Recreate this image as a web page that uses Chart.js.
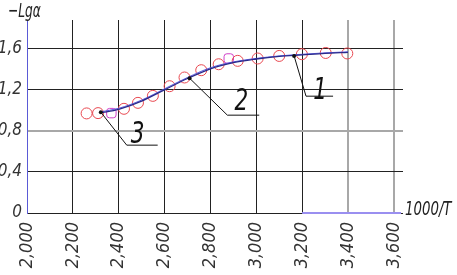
<!DOCTYPE html>
<html>
<head>
<meta charset="utf-8">
<script src="https://cdn.jsdelivr.net/npm/chart.js@4.4.1/dist/chart.umd.min.js"></script>
<style>
  html, body { margin: 0; padding: 0; background: #fff; }
  #wrap { width: 457px; height: 275px; }
</style>
</head>
<body>
<div id="wrap"><canvas id="c" width="457" height="275"></canvas></div>
<script>
// measured points (1000/T, -lg a)
const measX = [2.260, 2.310, 2.368, 2.423, 2.484, 2.549, 2.622, 2.687, 2.760, 2.836, 2.880, 2.919, 3.006, 3.100, 3.199, 3.303, 3.397];
const measY = [0.970, 0.973, 0.973, 1.015, 1.073, 1.141, 1.235, 1.320, 1.391, 1.449, 1.505, 1.482, 1.505, 1.530, 1.547, 1.559, 1.554];
const squareIdx = [2, 10];

// fitted curves
const fitX = [2.32, 2.40, 2.50, 2.60, 2.70, 2.80, 2.90, 3.00, 3.10, 3.20, 3.30, 3.40];
const fitA = [0.975, 1.010, 1.090, 1.200, 1.310, 1.405, 1.465, 1.500, 1.525, 1.540, 1.555, 1.565];
const fitB = [0.985, 1.020, 1.100, 1.210, 1.320, 1.415, 1.472, 1.506, 1.530, 1.546, 1.560, 1.570];

const xTicks = [2.0, 2.2, 2.4, 2.6, 2.8, 3.0, 3.2, 3.4, 3.6];
const yTicks = [0, 0.2, 0.4, 0.6, 0.8, 1.0, 1.2, 1.4, 1.6, 1.8];
const yLabelled = [0, 0.4, 0.8, 1.2, 1.6];

// callouts: label, anchor on curve, elbow, end of shelf, text position
const calloutLabels = ['3', '2', '1'];
const calloutAnchor = [[2.322, 0.982], [2.709, 1.313], [3.165, 1.530]];
const calloutElbow = [[2.435, 0.661], [2.874, 0.953], [3.217, 1.138]];
const calloutEnd = [[2.570, 0.661], [3.013, 0.953], [3.335, 1.138]];
const calloutText = [[2.483, 0.760], [2.935, 1.080], [3.278, 1.190]];

const FONT = "'Liberation Sans Narrow', 'DejaVu Sans Condensed', sans-serif";
const grayX = [3.4, 3.6];
const grayY = [0.8, 1.4];
const near = (a, b) => Math.abs(a - b) < 1e-6;
const comma = s => s.replace('.', ',');

// draw narrow (horizontally squeezed) text, like the CAD font of the original
function narrowText(ctx, txt, px, py, size, sx) {
  ctx.save();
  ctx.translate(px, py);
  ctx.scale(sx, 1);
  ctx.font = "italic " + size + "px " + FONT;
  ctx.fillText(txt, 0, 0);
  ctx.restore();
}

const extras = {
  id: 'extras',
  afterDatasetsDraw(chart) {
    const { ctx, scales: { x, y }, chartArea: a } = chart;
    ctx.save();
    // purple segment of bottom axis
    ctx.strokeStyle = '#9a8ff0';
    ctx.lineWidth = 2;
    ctx.beginPath();
    ctx.moveTo(x.getPixelForValue(3.2), y.getPixelForValue(0));
    ctx.lineTo(a.right - 2, y.getPixelForValue(0));
    ctx.stroke();

    // callout leaders
    ctx.strokeStyle = '#111';
    ctx.lineWidth = 1;
    ctx.fillStyle = '#111';
    calloutLabels.forEach((lab, i) => {
      const p0 = calloutAnchor[i], p1 = calloutElbow[i], p2 = calloutEnd[i];
      ctx.beginPath();
      ctx.moveTo(x.getPixelForValue(p0[0]), y.getPixelForValue(p0[1]));
      ctx.lineTo(x.getPixelForValue(p1[0]), y.getPixelForValue(p1[1]));
      ctx.lineTo(x.getPixelForValue(p2[0]), y.getPixelForValue(p2[1]));
      ctx.stroke();
      ctx.beginPath();
      ctx.arc(x.getPixelForValue(p0[0]), y.getPixelForValue(p0[1]), 2, 0, Math.PI * 2);
      ctx.fill();
      ctx.textAlign = 'center';
      ctx.textBaseline = 'middle';
      narrowText(ctx, lab, x.getPixelForValue(calloutText[i][0]), y.getPixelForValue(calloutText[i][1]), 30, 0.8);
    });

    // axis titles
    ctx.fillStyle = '#222';
    ctx.textAlign = 'left';
    ctx.textBaseline = 'middle';
    narrowText(ctx, '\u2212Lg\u03b1', a.left - 19, 12, 20, 0.68);
    narrowText(ctx, '1000/T', a.right + 2, y.getPixelForValue(0) - 3, 20, 0.74);
    ctx.restore();
  }
};

new Chart(document.getElementById('c'), {
  type: 'scatter',
  data: {
    datasets: [
      {
        label: 'curve A',
        type: 'line',
        data: fitX.map((v, i) => ({ x: v, y: fitA[i] })),
        borderColor: '#2a2a8a',
        borderWidth: 1.3,
        pointRadius: 0,
        tension: 0.4,
        cubicInterpolationMode: 'monotone',
        fill: false
      },
      {
        label: 'curve B',
        type: 'line',
        data: fitX.map((v, i) => ({ x: v, y: fitB[i] })),
        borderColor: '#5a5ae0',
        borderWidth: 1,
        pointRadius: 0,
        tension: 0.4,
        cubicInterpolationMode: 'monotone',
        fill: false
      },
      {
        label: 'measured',
        data: measX.map((v, i) => ({ x: v, y: measY[i] })),
        pointStyle: measX.map((v, i) => squareIdx.includes(i) ? 'rectRounded' : 'circle'),
        pointRadius: 5.5,
        pointBorderWidth: 1,
        pointBorderColor: measX.map((v, i) => squareIdx.includes(i) ? '#d040c8' : '#e84850'),
        pointBackgroundColor: 'rgba(0,0,0,0)'
      }
    ]
  },
  options: {
    responsive: false,
    devicePixelRatio: 1,
    animation: false,
    layout: { padding: { top: 20, right: 54, left: 0, bottom: 0 } },
    plugins: { legend: { display: false }, tooltip: { enabled: false } },
    scales: {
      x: {
        type: 'linear',
        min: 2.0,
        max: 3.64,
        afterBuildTicks: s => { s.ticks = xTicks.map(v => ({ value: v })); },
        afterFit: s => { s.height = 62; },
        border: { display: false },
        grid: {
          drawTicks: false,
          color: c => c.index === 0 ? 'rgba(0,0,0,0)' : (grayX.some(g => near(g, c.tick.value)) ? '#a8a8a8' : '#222'),
          lineWidth: c => grayX.some(g => near(g, c.tick.value)) ? 2 : 1
        },
        ticks: {
          minRotation: 90,
          maxRotation: 90,
          padding: 9,
          color: '#333',
          font: { family: FONT, size: 18, style: 'italic' },
          callback: v => comma(Number(v).toFixed(3))
        }
      },
      y: {
        min: 0,
        max: 1.88,
        afterBuildTicks: s => { s.ticks = yTicks.map(v => ({ value: v })); },
        afterFit: s => { s.width = 27; },
        border: { display: true, color: '#5a5ad6', width: 1 },
        grid: {
          drawTicks: false,
          color: c => grayY.some(g => near(g, c.tick.value)) ? '#a8a8a8' : '#222',
          lineWidth: c => grayY.some(g => near(g, c.tick.value)) ? 2 : 1
        },
        ticks: {
          padding: 5,
          color: '#333',
          font: { family: FONT, size: 17, style: 'italic' },
          callback: v => {
            if (!yLabelled.some(t => near(t, v))) return '';
            return v === 0 ? '0' : comma(Number(v).toFixed(1));
          }
        }
      }
    }
  },
  plugins: [extras]
});
</script>
</body>
</html>
